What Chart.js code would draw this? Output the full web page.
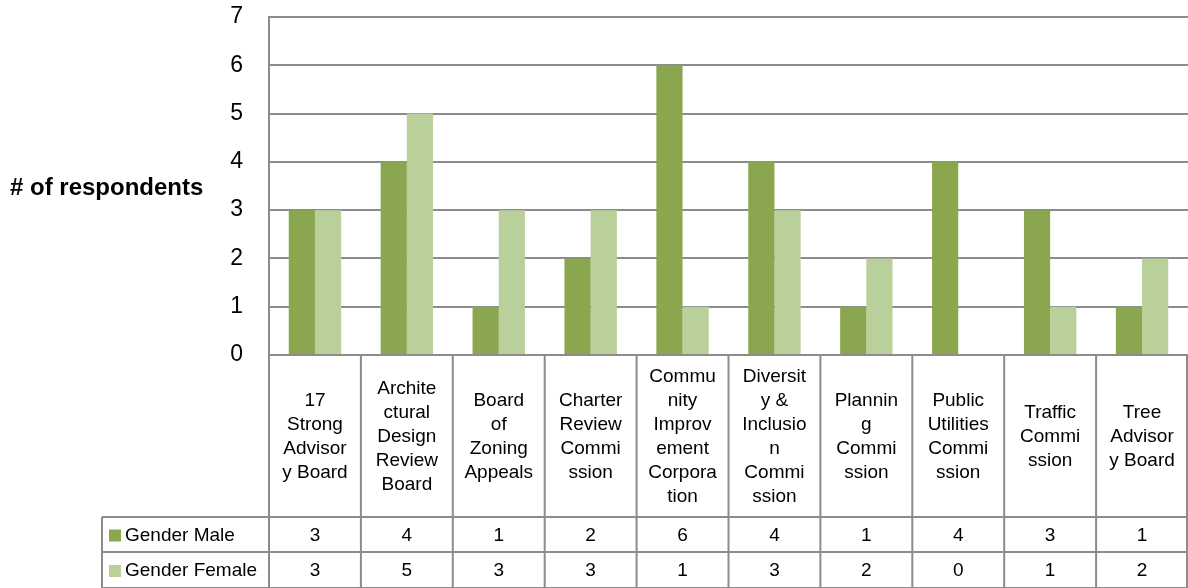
<!DOCTYPE html>
<html>
<head>
<meta charset="utf-8">
<script src="https://cdn.jsdelivr.net/npm/chart.js@4/dist/chart.umd.min.js"></script>
<style>
  html, body { margin: 0; padding: 0; background: #fff; overflow: hidden; }
  canvas { display: block; }
</style>
</head>
<body>
<canvas id="chart" width="1188" height="588"></canvas>
<script>
var categories = [
    ["17", "Strong", "Advisor", "y Board"],
    ["Archite", "ctural", "Design", "Review", "Board"],
    ["Board", "of", "Zoning", "Appeals"],
    ["Charter", "Review", "Commi", "ssion"],
    ["Commu", "nity", "Improv", "ement", "Corpora", "tion"],
    ["Diversit", "y &", "Inclusio", "n", "Commi", "ssion"],
    ["Plannin", "g", "Commi", "ssion"],
    ["Public", "Utilities", "Commi", "ssion"],
    ["Traffic", "Commi", "ssion"],
    ["Tree", "Advisor", "y Board"]
];
var maleValues = [3, 4, 1, 2, 6, 4, 1, 4, 3, 1];
var femaleValues = [3, 5, 3, 3, 1, 3, 2, 0, 1, 2];
var seriesNames = ["Gender Male", "Gender Female"];
var yTicks = [0, 1, 2, 3, 4, 5, 6, 7];
var yTitle = "# of respondents";

var lineColor = '#8c8c8c';
var tableFont = '19px "Liberation Sans", Arial, sans-serif';

// draws the data table under the plot and the horizontal axis title
var tablePlugin = {
    id: 'dataTable',
    afterDraw: function (chart) {
        var ctx = chart.ctx;
        var x = chart.scales.x;
        var area = chart.chartArea;
        var n = categories.length;
        var cellW = x.width / n;
        var top = area.bottom;
        var row1 = 517, row2 = 552, bottom = 588;
        var legendLeft = 102;

        ctx.save();
        ctx.strokeStyle = lineColor;
        ctx.lineWidth = 2;

        // horizontal lines
        ctx.beginPath();
        ctx.moveTo(area.left, top); ctx.lineTo(area.right, top);
        ctx.moveTo(legendLeft, row1); ctx.lineTo(area.right, row1);
        ctx.moveTo(legendLeft, row2); ctx.lineTo(area.right, row2);
        ctx.moveTo(legendLeft, bottom); ctx.lineTo(area.right, bottom);
        // vertical lines
        ctx.moveTo(legendLeft, row1); ctx.lineTo(legendLeft, bottom);
        for (var i = 0; i <= n; i++) {
            var bx = area.left + i * cellW;
            if (i == n) bx = Math.min(bx, chart.width - 1);
            ctx.moveTo(bx, top); ctx.lineTo(bx, bottom);
        }
        ctx.stroke();

        ctx.fillStyle = '#000';
        ctx.font = tableFont;
        ctx.textAlign = 'center';
        ctx.textBaseline = 'middle';

        // category labels, vertically centred in their cell
        var lineH = 24;
        var midY = (top + row1) / 2 + 1;
        for (var c = 0; c < n; c++) {
            var cx = x.getPixelForValue(c);
            var lines = categories[c];
            var startY = midY - (lines.length - 1) * lineH / 2;
            for (var l = 0; l < lines.length; l++) {
                ctx.fillText(lines[l], cx, startY + l * lineH);
            }
        }

        // value rows
        var rows = [maleValues, femaleValues];
        var rowMid = [(row1 + row2) / 2 + 1, (row2 + bottom) / 2 + 1];
        for (var r = 0; r < rows.length; r++) {
            for (var k = 0; k < n; k++) {
                ctx.fillText(String(rows[r][k]), x.getPixelForValue(k), rowMid[r]);
            }
            // legend key + name
            ctx.fillStyle = chart.data.datasets[r].backgroundColor;
            ctx.fillRect(109, rowMid[r] - 6, 12, 12);
            ctx.fillStyle = '#000';
            ctx.textAlign = 'left';
            ctx.fillText(seriesNames[r], 125, rowMid[r]);
            ctx.textAlign = 'center';
        }

        // axis title
        ctx.font = 'bold 24px "Liberation Sans", Arial, sans-serif';
        ctx.textAlign = 'left';
        ctx.fillText(yTitle, 10, 188);
        ctx.restore();
    }
};

var chart = new Chart(document.getElementById('chart').getContext('2d'), {
    type: 'bar',
    data: {
        labels: categories.map(function (c) { return c.join(' '); }),
        datasets: [{
            label: seriesNames[0],
            data: maleValues,
            backgroundColor: '#8aa64f',
            borderWidth: 0
        }, {
            label: seriesNames[1],
            data: femaleValues,
            backgroundColor: '#b9d09a',
            borderWidth: 0
        }]
    },
    options: {
        responsive: false,
        animation: false,
        devicePixelRatio: 1,
        layout: { padding: { top: 17, bottom: 233, left: 0, right: 0 } },
        plugins: { legend: { display: false }, tooltip: { enabled: false } },
        datasets: { bar: { categoryPercentage: 0.57, barPercentage: 1.0 } },
        scales: {
            x: { display: false },
            y: {
                min: 0,
                max: 7,
                afterFit: function (scale) {
                    scale.width = 269;
                    scale.paddingTop = 0;
                    scale.paddingBottom = 0;
                },
                afterBuildTicks: function (scale) {
                    scale.ticks = yTicks.map(function (v) { return { value: v }; });
                },
                ticks: {
                    padding: 26,
                    color: '#000',
                    font: { family: '"Liberation Sans", Arial, sans-serif', size: 23 }
                },
                grid: { color: lineColor, lineWidth: 2, drawTicks: false },
                border: { color: lineColor, width: 2 }
            }
        }
    },
    plugins: [tablePlugin]
});
</script>
</body>
</html>
